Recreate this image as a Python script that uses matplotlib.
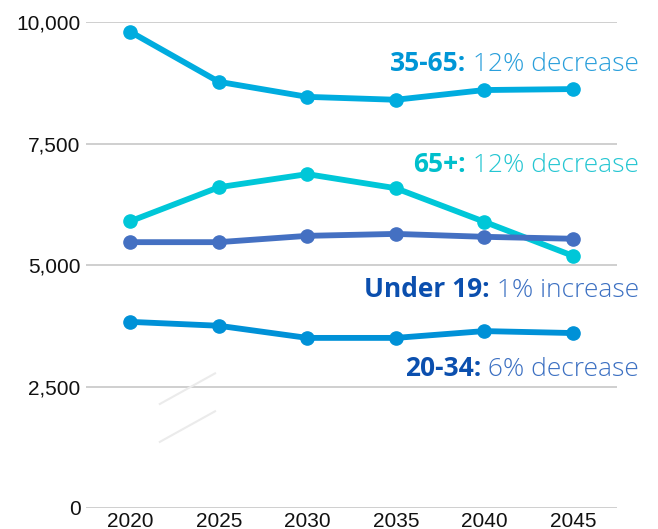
import numpy as np
import matplotlib
matplotlib.use("Agg")
import matplotlib.pyplot as plt

# data
years = ["2020", "2025", "2030", "2035", "2040", "2045"]
age_35_65 = [9800, 8770, 8460, 8400, 8600, 8620]
age_65_up = [5900, 6600, 6870, 6580, 5890, 5190]
under_19 = [5470, 5470, 5600, 5640, 5580, 5540]
age_20_34 = [3830, 3750, 3500, 3500, 3640, 3600]
yticks = [0, 2500, 5000, 7500, 10000]

series = [
    (age_35_65, "#00ACDF"),
    (age_65_up, "#00C7D8"),
    (under_19, "#4470C2"),
    (age_20_34, "#0091D7"),
]

# label text: (bold part, rest, y value of baseline, bold color, rest color)
labels = [
    ("35-65:", " 12% decrease", 8990, "#0096D6", "#2A9FDB"),
    ("65+:", " 12% decrease", 6920, "#00BFCC", "#25C6D2"),
    ("Under 19:", " 1% increase", 4340, "#0B4FAE", "#3C70C2"),
    ("20-34:", " 6% decrease", 2720, "#0B4FAE", "#3C70C2"),
]

fig = plt.figure(figsize=(6.58, 5.29), dpi=100)
ax = fig.add_axes([0.1307, 0.0397, 0.807, 0.9187])

x = np.arange(len(years))
for vals, col in series:
    ax.plot(x, vals, color=col, lw=4.2, marker="o", markersize=9.5,
            solid_capstyle="round", zorder=3)

ax.set_xlim(-0.5, len(years) - 0.5)
ax.set_ylim(0, 10000)
ax.set_yticks(yticks)
ax.set_yticklabels([f"{v:,}" for v in yticks])
ax.set_xticks(x)
ax.set_xticklabels(years)
ax.grid(axis="y", color="#CCCCCC", lw=1.3)
ax.set_axisbelow(True)
for s in ax.spines.values():
    s.set_visible(False)
ax.tick_params(length=0, labelsize=15, pad=4)
ax.tick_params(axis="x", pad=3)
for t in ax.get_xticklabels() + ax.get_yticklabels():
    t.set_fontfamily("Liberation Sans")
    t.set_color("#111111")

# faint break marks
ax.plot([0.139, 0.243], [0.214, 0.277], transform=ax.transAxes,
        color="#EBEBEB", lw=1.5, zorder=1)
ax.plot([0.139, 0.243], [0.136, 0.199], transform=ax.transAxes,
        color="#EBEBEB", lw=1.5, zorder=1)

fig.canvas.draw()
renderer = fig.canvas.get_renderer()
x_right = 639 / 658
for bold, rest, yv, cb, cr in labels:
    yfig = fig.transFigure.inverted().transform(ax.transData.transform((0, yv)))[1]
    t = fig.text(x_right, yfig, rest, ha="right", va="baseline", fontsize=19,
                 family="Open Sans", fontweight="light", color=cr)
    bb = t.get_window_extent(renderer)
    x0 = fig.transFigure.inverted().transform((bb.x0, bb.y0))[0]
    fig.text(x0, yfig, bold, ha="right", va="baseline", fontsize=19,
             family="Open Sans", fontweight="bold", color=cb)

plt.savefig("out.png", dpi=100)
